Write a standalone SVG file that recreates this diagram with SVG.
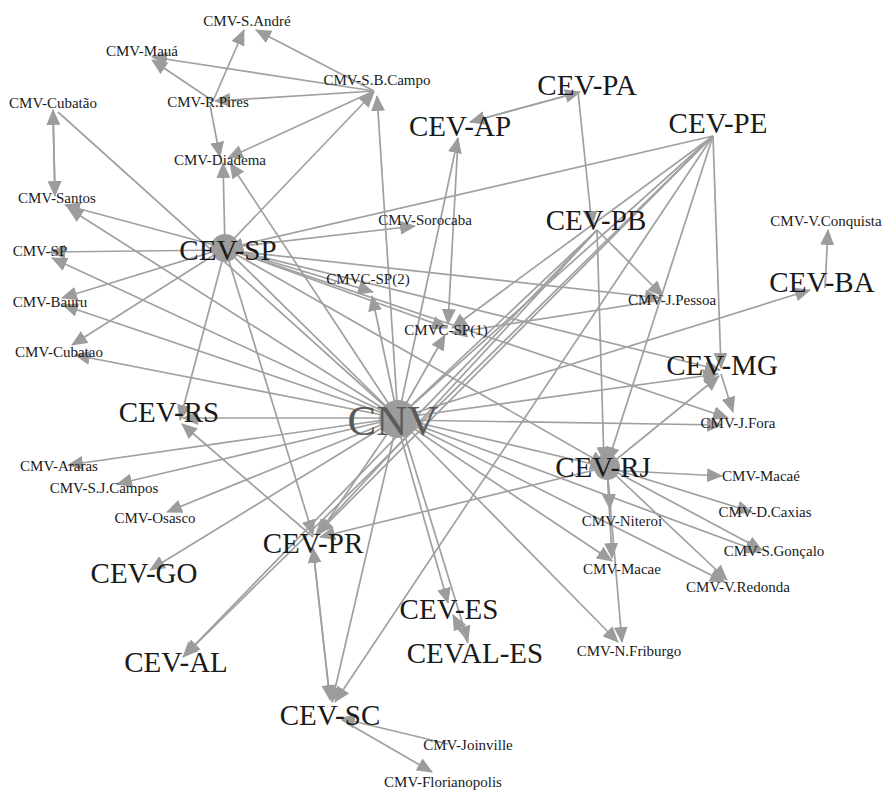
<svg xmlns="http://www.w3.org/2000/svg" width="885" height="790" viewBox="0 0 885 790">
<style>
.e{stroke:#a0a0a0;stroke-width:1.7;fill:none;marker-end:url(#ah)}
.s{font-family:"Liberation Serif",serif;font-size:15px;fill:#1a1a1a;text-anchor:middle}
.b{font-family:"Liberation Serif",serif;font-size:29px;fill:#1a1a1a;text-anchor:middle}
.c{font-family:"Liberation Serif",serif;font-size:43px;fill:#5a5a5a;text-anchor:middle}
.blob{fill:#9c9c9c}
</style>
<defs>
<marker id="ah" viewBox="0 0 16 14" refX="15" refY="7" markerWidth="16" markerHeight="14" markerUnits="userSpaceOnUse" orient="auto">
<path d="M0,0 L16,7 L0,14 z" fill="#9c9c9c"/>
</marker>
</defs>
<rect width="885" height="790" fill="#ffffff"/>
<g id="connectors">
<line class="e" x1="374" y1="91" x2="256" y2="30"/>
<line class="e" x1="213" y1="101" x2="244" y2="30"/>
<line class="e" x1="374" y1="91" x2="152" y2="57"/>
<line class="e" x1="213" y1="101" x2="152" y2="60"/>
<line class="e" x1="374" y1="91" x2="215" y2="101"/>
<line class="e" x1="210" y1="105" x2="220" y2="157"/>
<line class="e" x1="374" y1="91" x2="228" y2="158"/>
<line class="e" x1="225" y1="248" x2="374" y2="92"/>
<line class="e" x1="398" y1="418" x2="377" y2="96"/>
<line class="e" x1="225" y1="248" x2="223" y2="163"/>
<line class="e" x1="398" y1="418" x2="230" y2="163"/>
<line class="e" x1="55" y1="195" x2="53" y2="110"/>
<line class="e" x1="53" y1="115" x2="55" y2="196"/>
<line class="e" x1="58" y1="112" x2="398" y2="418"/>
<line class="e" x1="225" y1="248" x2="65" y2="205"/>
<line class="e" x1="398" y1="418" x2="68" y2="208"/>
<line class="e" x1="225" y1="248" x2="415" y2="226"/>
<line class="e" x1="225" y1="250" x2="50" y2="252"/>
<line class="e" x1="398" y1="418" x2="52" y2="258"/>
<line class="e" x1="225" y1="248" x2="62" y2="298"/>
<line class="e" x1="398" y1="418" x2="63" y2="305"/>
<line class="e" x1="225" y1="248" x2="72" y2="345"/>
<line class="e" x1="398" y1="418" x2="75" y2="355"/>
<line class="e" x1="225" y1="250" x2="180" y2="420"/>
<line class="e" x1="398" y1="418" x2="183" y2="418"/>
<line class="e" x1="313" y1="537" x2="182" y2="424"/>
<line class="e" x1="398" y1="418" x2="68" y2="465"/>
<line class="e" x1="398" y1="418" x2="117" y2="484"/>
<line class="e" x1="398" y1="418" x2="167" y2="512"/>
<line class="e" x1="398" y1="418" x2="150" y2="570"/>
<line class="e" x1="225" y1="248" x2="313" y2="535"/>
<line class="e" x1="398" y1="418" x2="318" y2="535"/>
<line class="e" x1="607" y1="467" x2="320" y2="537"/>
<line class="e" x1="713" y1="136" x2="318" y2="533"/>
<line class="e" x1="597" y1="230" x2="316" y2="534"/>
<line class="e" x1="313" y1="548" x2="330" y2="700"/>
<line class="e" x1="330" y1="700" x2="313" y2="548"/>
<line class="e" x1="398" y1="418" x2="332" y2="702"/>
<line class="e" x1="713" y1="136" x2="335" y2="702"/>
<line class="e" x1="448" y1="744" x2="340" y2="718"/>
<line class="e" x1="342" y1="720" x2="432" y2="772"/>
<line class="e" x1="597" y1="230" x2="183" y2="657"/>
<line class="e" x1="713" y1="136" x2="185" y2="655"/>
<line class="e" x1="396" y1="420" x2="448" y2="603"/>
<line class="e" x1="400" y1="420" x2="468" y2="641"/>
<line class="e" x1="468" y1="643" x2="453" y2="615"/>
<line class="e" x1="398" y1="418" x2="618" y2="642"/>
<line class="e" x1="607" y1="467" x2="622" y2="642"/>
<line class="e" x1="607" y1="467" x2="610" y2="509"/>
<line class="e" x1="607" y1="467" x2="612" y2="558"/>
<line class="e" x1="607" y1="470" x2="722" y2="476"/>
<line class="e" x1="607" y1="467" x2="752" y2="512"/>
<line class="e" x1="607" y1="467" x2="762" y2="550"/>
<line class="e" x1="607" y1="467" x2="727" y2="580"/>
<line class="e" x1="398" y1="418" x2="612" y2="561"/>
<line class="e" x1="398" y1="418" x2="760" y2="552"/>
<line class="e" x1="398" y1="418" x2="725" y2="582"/>
<line class="e" x1="398" y1="418" x2="605" y2="467"/>
<line class="e" x1="398" y1="420" x2="722" y2="425"/>
<line class="e" x1="721" y1="374" x2="733" y2="412"/>
<line class="e" x1="607" y1="467" x2="719" y2="376"/>
<line class="e" x1="398" y1="418" x2="718" y2="374"/>
<line class="e" x1="713" y1="136" x2="721" y2="368"/>
<line class="e" x1="225" y1="248" x2="720" y2="370"/>
<line class="e" x1="225" y1="250" x2="660" y2="298"/>
<line class="e" x1="662" y1="300" x2="452" y2="333"/>
<line class="e" x1="597" y1="230" x2="663" y2="296"/>
<line class="e" x1="458" y1="140" x2="448" y2="324"/>
<line class="e" x1="398" y1="418" x2="458" y2="138"/>
<line class="e" x1="470" y1="122" x2="580" y2="92"/>
<line class="e" x1="580" y1="92" x2="470" y2="122"/>
<line class="e" x1="578" y1="92" x2="592" y2="226"/>
<line class="e" x1="597" y1="230" x2="604" y2="462"/>
<line class="e" x1="713" y1="136" x2="608" y2="462"/>
<line class="e" x1="713" y1="136" x2="228" y2="248"/>
<line class="e" x1="713" y1="136" x2="400" y2="416"/>
<line class="e" x1="597" y1="230" x2="400" y2="416"/>
<line class="e" x1="713" y1="136" x2="452" y2="328"/>
<line class="e" x1="398" y1="418" x2="810" y2="290"/>
<line class="e" x1="825" y1="288" x2="828" y2="230"/>
<line class="e" x1="225" y1="248" x2="373" y2="292"/>
<line class="e" x1="398" y1="418" x2="372" y2="296"/>
<line class="e" x1="225" y1="248" x2="447" y2="328"/>
<line class="e" x1="398" y1="418" x2="445" y2="335"/>
<line class="e" x1="225" y1="248" x2="398" y2="418"/>
<line class="e" x1="225" y1="248" x2="605" y2="465"/>
<line class="e" x1="225" y1="248" x2="728" y2="418"/>
</g>
<g id="node-CMV-S.Andre"><text class="s" x="247" y="26">CMV-S.André</text></g>
<g id="node-CMV-Maua"><text class="s" x="142" y="56">CMV-Mauá</text></g>
<g id="node-CMV-S.B.Campo"><text class="s" x="377" y="85">CMV-S.B.Campo</text></g>
<g id="node-CMV-Cubatao-1"><text class="s" x="53" y="108">CMV-Cubatão</text></g>
<g id="node-CMV-R.Pires"><text class="s" x="208" y="107">CMV-R.Pires</text></g>
<g id="node-CMV-Diadema"><text class="s" x="220" y="165">CMV-Diadema</text></g>
<g id="node-CMV-Santos"><text class="s" x="57" y="203">CMV-Santos</text></g>
<g id="node-CMV-Sorocaba"><text class="s" x="425" y="225">CMV-Sorocaba</text></g>
<g id="node-CEV-SP"><circle class="blob" cx="225" cy="248" r="14"/><text class="b" x="228" y="260">CEV-SP</text></g>
<g id="node-CMV-SP"><text class="s" x="40" y="256">CMV-SP</text></g>
<g id="node-CMV-Bauru"><text class="s" x="50" y="307">CMV-Bauru</text></g>
<g id="node-CMV-Cubatao-2"><text class="s" x="59" y="357">CMV-Cubatao</text></g>
<g id="node-CMVC-SP2"><text class="s" x="368" y="284">CMVC-SP(2)</text></g>
<g id="node-CMVC-SP1"><text class="s" x="446" y="335">CMVC-SP(1)</text></g>
<g id="node-CEV-AP"><text class="b" x="460" y="136">CEV-AP</text></g>
<g id="node-CEV-PA"><text class="b" x="587" y="95">CEV-PA</text></g>
<g id="node-CEV-PE"><text class="b" x="718" y="133">CEV-PE</text></g>
<g id="node-CEV-PB"><text class="b" x="596" y="230">CEV-PB</text></g>
<g id="node-CMV-V.Conquista"><text class="s" x="826" y="226">CMV-V.Conquista</text></g>
<g id="node-CEV-BA"><text class="b" x="822" y="292">CEV-BA</text></g>
<g id="node-CMV-J.Pessoa"><text class="s" x="672" y="305">CMV-J.Pessoa</text></g>
<g id="node-CEV-MG"><text class="b" x="722" y="375">CEV-MG</text></g>
<g id="node-CMV-J.Fora"><text class="s" x="738" y="428">CMV-J.Fora</text></g>
<g id="node-CNV"><circle class="blob" cx="398" cy="419" r="19"/><text class="c" x="393" y="435">CNV</text></g>
<g id="node-CEV-RS"><text class="b" x="169" y="422">CEV-RS</text></g>
<g id="node-CMV-Araras"><text class="s" x="59" y="471">CMV-Araras</text></g>
<g id="node-CMV-S.J.Campos"><text class="s" x="104" y="493">CMV-S.J.Campos</text></g>
<g id="node-CMV-Osasco"><text class="s" x="155" y="523">CMV-Osasco</text></g>
<g id="node-CEV-RJ"><circle class="blob" cx="607" cy="467" r="13"/><text class="b" x="603" y="477">CEV-RJ</text></g>
<g id="node-CMV-Macae-acc"><text class="s" x="761" y="481">CMV-Macaé</text></g>
<g id="node-CMV-D.Caxias"><text class="s" x="765" y="517">CMV-D.Caxias</text></g>
<g id="node-CMV-Niteroi"><text class="s" x="622" y="526">CMV-Niteroi</text></g>
<g id="node-CMV-S.Goncalo"><text class="s" x="774" y="556">CMV-S.Gonçalo</text></g>
<g id="node-CMV-Macae"><text class="s" x="622" y="574">CMV-Macae</text></g>
<g id="node-CMV-V.Redonda"><text class="s" x="738" y="592">CMV-V.Redonda</text></g>
<g id="node-CEV-PR"><text class="b" x="313" y="553">CEV-PR</text></g>
<g id="node-CEV-GO"><text class="b" x="144" y="583">CEV-GO</text></g>
<g id="node-CEV-ES"><text class="b" x="449" y="619">CEV-ES</text></g>
<g id="node-CEVAL-ES"><text class="b" x="475" y="663">CEVAL-ES</text></g>
<g id="node-CEV-AL"><text class="b" x="176" y="672">CEV-AL</text></g>
<g id="node-CMV-N.Friburgo"><text class="s" x="629" y="656">CMV-N.Friburgo</text></g>
<g id="node-CEV-SC"><text class="b" x="330" y="725">CEV-SC</text></g>
<g id="node-CMV-Joinville"><text class="s" x="468" y="750">CMV-Joinville</text></g>
<g id="node-CMV-Florianopolis"><text class="s" x="443" y="787">CMV-Florianopolis</text></g>
</svg>
